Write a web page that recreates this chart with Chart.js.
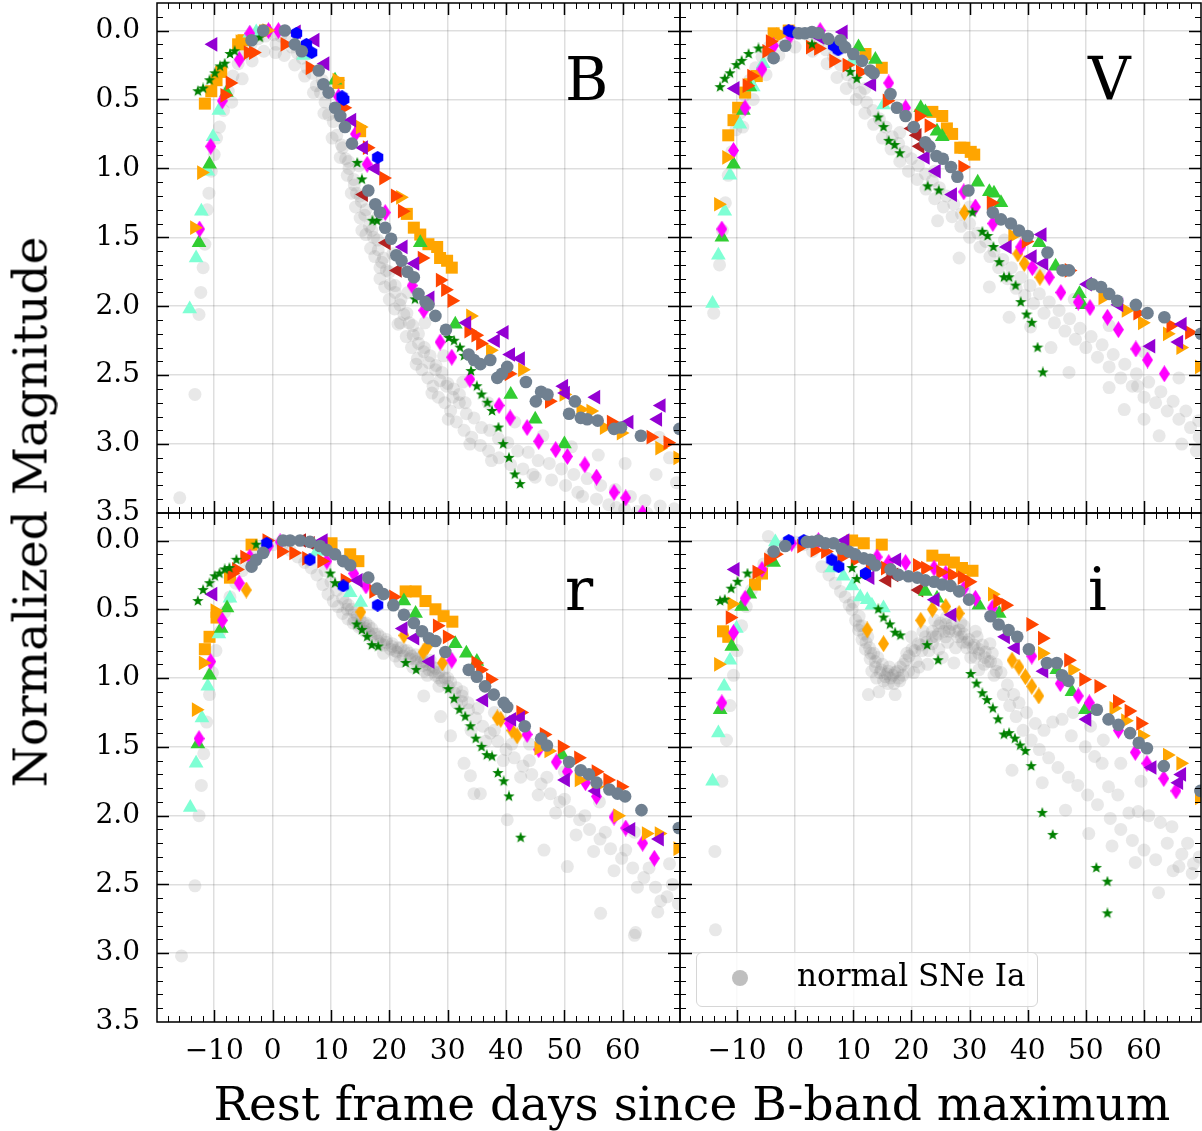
<!DOCTYPE html>
<html>
<head>
<meta charset="utf-8">
<script src="https://cdn.jsdelivr.net/npm/chart.js@4.4.1/dist/chart.umd.min.js"></script>
<style>
  body { margin: 0; background: #fff; width: 1202px; height: 1131px; position: relative; overflow: hidden; font-family: "DejaVu Serif", serif; }
  canvas { position: absolute; }
  .lab { position: absolute; white-space: nowrap; color: #000; }
  #ylab { left: 30px; top: 512px; font-size: 47px; transform: translate(-50%, -50%) rotate(-90deg); }
  #xlab { left: 692px; top: 1103px; font-size: 47px; transform: translate(-50%, -50%); }
  #legend { position: absolute; left: 696px; top: 952px; width: 340px; height: 53px; border: 1.5px solid #d6d6d6; border-radius: 6px; background: rgba(255,255,255,0.8); }
  #legend .dot { position: absolute; left: 35px; top: 17px; width: 16px; height: 16px; border-radius: 50%; background: #bfbfbf; }
  #legend .txt { position: absolute; left: 100px; top: 4px; font-size: 31px; }
</style>
</head>
<body>
<canvas id="cB" width="690" height="545" style="left:0;top:0"></canvas>
<canvas id="cV" width="532" height="545" style="left:670px;top:0"></canvas>
<canvas id="cR" width="690" height="648" style="left:0;top:483px"></canvas>
<canvas id="cI" width="532" height="648" style="left:670px;top:483px"></canvas>
<div class="lab" id="ylab">Normalized Magnitude</div>
<div class="lab" id="xlab">Rest frame days since B-band maximum</div>
<div id="legend"><span class="dot"></span><span class="txt">normal SNe Ia</span></div>
<script>
// axes
const xRange = [-19.8, 69.8];
const yRange = [-0.2, 3.5];
const xTicks = [-10, 0, 10, 20, 30, 40, 50, 60];
const yTicks = [0, 0.5, 1.0, 1.5, 2.0, 2.5, 3.0, 3.5];

// ---- B band ----
const B_slate = [[-3.6,0.07],[-1.6,0.0],[2.1,0.0],[3.8,0.10],[5.0,0.15],[7.9,0.29],[8.7,0.39],[9.6,0.45],[10.7,0.56],[11.6,0.62],[12.4,0.70],[13.6,0.82],[16.4,1.16],[17.6,1.26],[18.4,1.32],[19.3,1.43],[20.3,1.51],[21.2,1.63],[22.1,1.67],[23.1,1.75],[24.2,1.79],[25.0,1.91],[26.2,1.97],[26.7,1.99],[27.9,2.07],[29.7,2.17],[33.6,2.35],[34.5,2.39],[35.6,2.42],[37.3,2.39],[38.5,2.52],[39.3,2.49],[40.2,2.44],[43.4,2.55],[45.1,2.69],[46.0,2.62],[47.1,2.64],[50.8,2.78],[51.8,2.69],[52.8,2.81],[53.9,2.82],[55.7,2.83],[58.5,2.89],[59.7,2.88],[63.1,2.94],[69.7,2.89]];
const B_sq = [[-11.6,0.53],[-10.5,0.44],[-9.6,0.36],[-8.8,0.30],[-5.9,0.10],[-5.0,0.07],[-1.3,0.0],[11.3,0.38],[15.0,0.73],[23.0,1.33],[24.2,1.43],[25.3,1.48],[26.7,1.55],[28.2,1.57],[28.7,1.65],[29.9,1.67],[30.7,1.72]];
const B_oTri = [[-13.4,1.43],[-12.2,1.03],[-5.6,0.08],[-1.0,0.0],[11.0,0.36],[15.0,0.70],[21.9,1.21],[33.9,2.07],[37.3,2.32],[42.8,2.46],[49.9,2.64],[52.8,2.75],[54.5,2.76],[56.8,2.88],[59.7,2.92],[66.3,3.03],[69.4,3.10]];
const B_oDia = [];
const B_orTri = [[-8.2,0.47],[-7.3,0.38],[-4.2,0.16],[-3.3,0.16],[2.1,0.10],[6.4,0.27],[12.2,0.56],[16.2,0.85],[19.0,1.07],[21.0,1.20],[22.2,1.31],[25.6,1.65],[28.7,1.81],[29.6,1.88],[30.7,1.96],[33.6,2.18],[34.8,2.21],[35.6,2.27],[40.5,2.49],[47.4,2.69],[58.0,2.84],[64.8,2.95],[67.7,2.99]];
const B_vio = [[-10.2,0.10],[4.1,0.01],[7.3,0.07],[9.0,0.24],[13.6,0.65],[15.6,0.85],[17.6,1.0],[22.4,1.57],[24.4,1.69],[27.0,1.94],[33.3,2.12],[38.2,2.25],[39.7,2.19],[40.8,2.35],[42.5,2.38],[49.9,2.58],[50.2,2.63],[55.4,2.66],[61.1,2.84],[66.0,2.82],[66.6,2.72]];
const B_mag = [[-12.5,1.44],[-10.6,0.84],[-8.6,0.51],[-5.7,0.21],[-3.9,0.02],[-0.7,0.0],[1.0,0.0],[11.3,0.48],[14.2,0.75],[16.2,0.97],[19.3,1.32],[23.9,1.85],[25.9,2.03],[28.7,2.26],[30.7,2.37],[33.8,2.53],[38.8,2.72],[40.7,2.81],[43.6,2.88],[45.6,2.98],[48.5,3.04],[50.5,3.09],[53.5,3.15],[55.5,3.24],[58.5,3.35],[60.5,3.39],[63.4,3.50]];
const B_lime = [[-12.6,1.54],[-10.8,0.97],[-7.9,0.45],[10.7,0.36],[25.3,1.54],[31.3,2.13],[40.8,2.64],[45.0,2.82],[50.0,3.0]];
const B_aqua = [[-14.2,2.02],[-13.1,1.65],[-12.2,1.31],[-11.1,1.02],[-10.2,0.77],[-9.2,0.58],[-3.9,0.02],[-2.8,0.01],[5.3,0.18]];
const B_star = [[-12.8,0.44],[-11.9,0.42],[-10.8,0.36],[-9.9,0.31],[-9.0,0.26],[-8.2,0.24],[-7.3,0.17],[-6.5,0.15],[-2.2,0.05],[14.5,0.96],[15.3,1.08],[17.1,1.38],[17.9,1.38],[24.4,1.95],[30.2,2.23],[31.1,2.25],[32.1,2.30],[32.8,2.36],[34.0,2.47],[35.0,2.58],[35.8,2.64],[36.8,2.70],[37.6,2.76],[38.7,2.88],[39.5,3.0],[40.5,3.1],[41.5,3.22],[42.4,3.29]];
const B_hex = [[4.1,0.02],[5.8,0.10],[6.7,0.16],[11.9,0.48],[12.2,0.50],[18.0,0.92]];
const B_brown = [[15.6,1.19],[19.5,1.54],[21.4,1.74]];
const B_grey = [[-15.9,3.39],[-13.3,2.64],[-12.6,2.06],[-12.3,1.90],[-11.9,1.72],[-11.6,1.55],[-11.2,1.30],[-10.9,1.18],[-10.5,1.02],[-10.0,0.90],[-9.6,0.78],[-9.1,0.70],[-8.4,0.58],[-7.6,0.44],[-6.8,0.33],[-5.9,0.24],[-4.8,0.17],[-3.7,0.10],[-2.5,0.06],[-1.2,0.04],[0.2,0.03],[0.6,0.10],[1.4,0.04],[2.4,0.08],[3.3,0.12],[4.2,0.16],[5.1,0.20],[5.9,0.27],[6.8,0.31],[7.5,0.40],[8.2,0.45],[9.0,0.52],[9.6,0.61],[10.4,0.66],[11.0,0.76],[11.8,0.83],[12.5,0.93],[13.1,1.00],[13.9,1.08],[14.4,1.18],[15.2,1.24],[15.8,1.34],[16.6,1.42],[17.3,1.50],[18.1,1.59],[18.7,1.68],[19.5,1.74],[20.2,1.84],[21.0,1.90],[21.8,1.99],[22.5,2.06],[23.4,2.12],[24.1,2.21],[25.0,2.27],[25.9,2.33],[26.8,2.41],[27.9,2.46],[28.7,2.54],[29.8,2.58],[30.9,2.66],[32.0,2.70],[33.2,2.78],[34.5,2.81],[35.8,2.88],[37.2,2.90],[38.7,2.96],[40.3,2.99],[42.0,3.05],[43.8,3.06],[45.5,3.12],[47.4,3.14],[49.5,3.18],[51.6,3.22],[53.9,3.25],[56.2,3.30],[58.7,3.33],[61.3,3.38],[63.8,3.41],[66.4,3.45],[68.8,3.47],[8.5,0.36],[11.4,0.62],[14.8,0.98],[17.9,1.36],[20.6,1.62],[23.2,1.90],[26.1,2.12],[29.3,2.36],[32.6,2.55],[36.9,2.70],[41.5,2.84],[46.3,2.94],[51.2,3.02],[55.8,3.08],[60.4,3.14],[65.7,3.22],[15.3,1.45],[18.4,1.80],[21.5,2.13],[24.6,2.42],[27.3,2.63],[30.1,2.82],[33.8,3.00],[37.5,3.12],[44.6,3.22],[52.3,3.35],[58.9,3.46],[64.1,3.50],[-7.0,0.52],[-5.2,0.35],[-3.5,0.22],[-1.5,0.15],[0.5,0.16],[2.0,0.18],[3.8,0.25],[5.5,0.33],[7.0,0.45],[8.8,0.60],[10.2,0.78],[11.6,0.92],[12.8,1.05],[13.5,1.18],[14.2,1.28],[15.0,1.36],[16.0,1.48],[16.8,1.58],[17.5,1.64],[18.4,1.72],[19.2,1.86],[20.0,1.95],[20.9,2.02],[21.9,2.12],[22.9,2.22],[23.8,2.30],[24.8,2.38],[25.6,2.46],[26.6,2.52],[27.5,2.58],[28.4,2.66],[29.5,2.70],[30.5,2.76],[31.5,2.84],[32.8,2.90],[34.1,2.95],[35.6,3.01],[37.0,3.05],[38.8,3.10],[40.8,3.15],[42.9,3.18],[45.0,3.24],[47.8,3.26],[50.2,3.30],[53.1,3.38],[55.5,3.40],[57.6,3.44],[60.3,3.47],[62.5,3.49],[66.2,2.95],[68.0,3.10],[69.2,3.28],[12.0,0.85],[13.0,0.95],[14.0,1.12],[15.0,1.20],[16.0,1.30],[17.0,1.45],[18.0,1.52],[19.0,1.65],[20.0,1.75],[21.0,1.85],[22.0,1.95],[23.0,2.05],[24.0,2.14],[25.0,2.20],[26.0,2.30],[27.0,2.36],[28.0,2.43],[29.0,2.48],[30.0,2.56],[31.0,2.60],[32.0,2.64],[33.0,2.70]];

// ---- V band ----
const V_slate = [[-3.7,0.20],[-1.7,0.11],[0.6,0.02],[1.7,0.02],[2.9,0.01],[4.0,0.02],[5.7,0.06],[7.8,0.07],[8.6,0.12],[10.0,0.17],[11.5,0.22],[12.9,0.29],[13.5,0.31],[16.4,0.46],[17.5,0.56],[19.0,0.62],[20.4,0.70],[22.4,0.81],[23.1,0.84],[24.3,0.91],[25.4,0.93],[26.8,0.99],[27.9,1.06],[29.8,1.16],[34.0,1.32],[35.4,1.37],[37.1,1.40],[38.5,1.45],[40.0,1.49],[43.4,1.61],[46.0,1.74],[47.1,1.74],[51.1,1.84],[52.6,1.86],[54.0,1.91],[55.4,1.96],[58.6,1.99],[60.6,2.05],[63.5,2.08],[69.8,2.20]];
const V_sq = [[-11.5,0.76],[-10.6,0.65],[-9.8,0.56],[-8.6,0.45],[-7.8,0.39],[-6.6,0.33],[-3.7,0.02],[-1.1,0.0],[12.1,0.17],[14.9,0.27],[23.6,0.59],[25.3,0.62],[26.1,0.71],[27.0,0.75],[28.4,0.85],[29.1,0.85],[30.2,0.88],[30.8,0.90]];
const V_oTri = [[-13.2,1.26],[-11.8,0.92],[-2.5,0.03],[37.4,1.49],[52.9,1.94],[56.9,2.03],[59.7,2.12],[64.0,2.20],[66.3,2.30],[69.5,2.44]];
const V_oDia = [[29.1,1.32],[38.3,1.62],[39.4,1.69],[42.1,1.79]];
const V_orTri = [[-8.3,0.40],[-7.5,0.33],[-4.9,0.15],[-4.3,0.08],[2.6,0.12],[4.0,0.13],[6.6,0.22],[8.9,0.25],[11.2,0.30],[15.8,0.51],[21.3,0.62],[23.0,0.69],[28.8,0.99],[33.7,1.25],[39.7,1.53],[47.1,1.74],[58.9,2.05],[64.6,2.14],[67.8,2.19]];
const V_vio = [[-10.3,0.42],[4.3,0.05],[8.3,0.01],[13.2,0.39],[22.4,0.92],[24.3,1.02],[27.1,1.19],[36.5,1.57],[40.8,1.64],[42.5,1.48],[42.8,1.69],[50.3,1.84],[55.7,1.99],[61.2,2.29],[66.0,2.26],[66.6,2.13]];
const V_mag = [[-12.6,1.44],[-10.6,0.87],[-8.6,0.56],[-5.7,0.28],[-3.7,0.11],[-0.9,0.04],[4.3,0.0],[16.1,0.38],[19.0,0.56],[29.0,1.17],[31.0,1.28],[34.0,1.40],[38.8,1.57],[40.8,1.72],[43.7,1.79],[45.7,1.90],[48.7,1.97],[50.7,2.01],[53.7,2.08],[55.6,2.17],[58.6,2.31],[60.6,2.39],[63.5,2.49]];
const V_lime = [[-12.6,1.50],[-10.6,0.97],[-8.9,0.58],[-7.8,0.41],[10.9,0.12],[13.8,0.21],[21.6,0.56],[22.4,0.59],[24.4,0.73],[25.3,0.77],[31.4,1.10],[33.4,1.17],[34.2,1.18],[35.4,1.25],[42.0,1.54],[44.8,1.71],[48.9,1.91],[49.4,1.99]];
const V_aqua = [[-14.2,1.98],[-13.2,1.63],[-12.1,1.31],[-11.2,1.05],[-9.5,0.68],[-7.2,0.41],[-5.5,0.24],[9.8,0.22],[15.2,0.54]];
const V_star = [[-12.9,0.41],[-12.1,0.35],[-11.2,0.31],[-10.1,0.25],[-9.2,0.22],[-8.0,0.17],[-6.3,0.13],[2.9,0.10],[9.5,0.30],[10.6,0.35],[14.3,0.63],[15.2,0.70],[16.1,0.80],[17.1,0.83],[18.0,0.89],[22.8,1.13],[24.7,1.16],[30.5,1.32],[32.2,1.46],[33.1,1.49],[34.1,1.57],[35.1,1.68],[35.9,1.79],[36.8,1.79],[37.9,1.85],[38.8,1.97],[39.8,2.06],[40.7,2.12],[41.7,2.30],[42.6,2.48]];
const V_hex = [[-1.1,0.0],[-0.5,0.01],[6.6,0.11],[7.4,0.14]];
const V_brown = [[20.1,0.71],[21.0,0.76],[21.5,0.84]];
const V_grey = [[-14.0,2.05],[-13.0,1.70],[-12.5,1.45],[-12.0,1.25],[-11.5,1.05],[-10.9,0.88],[-10.2,0.72],[-9.5,0.60],[-8.7,0.47],[-7.8,0.36],[-6.8,0.27],[-5.7,0.19],[-4.5,0.12],[-3.2,0.07],[-1.8,0.03],[-0.3,0.01],[1.2,0.02],[2.6,0.05],[4.0,0.09],[5.3,0.14],[6.6,0.19],[7.8,0.25],[9.0,0.32],[10.1,0.38],[11.2,0.45],[12.3,0.52],[13.4,0.58],[14.5,0.64],[15.6,0.70],[16.7,0.77],[17.8,0.82],[18.9,0.88],[20.0,0.93],[21.2,0.98],[22.4,1.04],[23.6,1.09],[24.8,1.14],[26.0,1.20],[27.3,1.26],[28.6,1.33],[30.0,1.40],[31.4,1.47],[32.8,1.53],[34.2,1.60],[35.7,1.66],[37.2,1.72],[38.8,1.79],[40.4,1.85],[42.0,1.91],[43.7,1.97],[45.4,2.03],[47.2,2.09],[49.0,2.16],[50.9,2.22],[52.8,2.28],[54.7,2.35],[56.7,2.42],[58.7,2.49],[60.8,2.55],[62.9,2.62],[65.0,2.69],[67.2,2.76],[69.4,2.83],[12.0,0.42],[18.0,0.74],[24.0,1.02],[30.0,1.28],[36.0,1.52],[42.0,1.74],[48.0,1.95],[54.0,2.14],[60.0,2.33],[66.0,2.52],[24.5,1.38],[28.2,1.65],[33.4,1.86],[36.8,2.08],[40.5,2.15],[44.0,2.30],[47.1,2.48],[54.0,2.59],[56.6,2.75],[58.9,2.58],[60.0,2.82],[62.6,2.94],[66.5,3.00],[69.0,3.05],[-9.0,0.70],[-7.2,0.50],[-5.0,0.32],[-2.8,0.18],[0.0,0.12],[3.0,0.15],[5.5,0.24],[7.2,0.34],[8.8,0.42],[10.5,0.50],[12.0,0.60],[13.5,0.68],[15.0,0.78],[16.5,0.86],[18.0,0.95],[19.5,1.02],[21.0,1.08],[22.5,1.15],[24.0,1.22],[25.5,1.28],[27.0,1.35],[28.5,1.42],[30.0,1.50],[31.8,1.57],[33.5,1.64],[35.0,1.72],[36.5,1.80],[38.0,1.87],[39.5,1.92],[41.0,1.98],[42.8,2.05],[44.6,2.12],[46.4,2.18],[48.2,2.24],[50.0,2.30],[52.0,2.37],[54.0,2.44],[56.0,2.52],[58.0,2.58],[60.0,2.66],[62.0,2.70],[64.0,2.76],[66.0,2.82],[68.0,2.88],[69.5,2.95]];

// ---- r band ----
const R_slate = [[-3.6,0.19],[-2.8,0.14],[-1.6,0.09],[1.8,0.0],[3.0,0.0],[4.7,0.0],[6.4,0.01],[8.1,0.04],[9.3,0.07],[10.7,0.10],[12.1,0.15],[13.3,0.18],[16.4,0.27],[17.9,0.35],[19.0,0.39],[20.7,0.47],[22.5,0.54],[24.2,0.60],[25.6,0.66],[26.8,0.71],[27.9,0.73],[29.6,0.81],[33.6,0.94],[35.0,0.99],[36.4,1.06],[37.9,1.12],[39.6,1.18],[40.2,1.21],[43.2,1.35],[46.0,1.44],[47.0,1.49],[50.8,1.61],[52.8,1.67],[54.2,1.70],[55.5,1.76],[57.7,1.81],[59.1,1.84],[60.4,1.86],[63.2,1.96],[69.6,2.09]];
const R_sq = [[-11.6,0.79],[-10.8,0.70],[-9.6,0.56],[-7.3,0.27],[-3.6,0.03],[10.1,0.02],[13.3,0.10],[14.7,0.15],[22.8,0.37],[24.5,0.37],[26.2,0.44],[27.9,0.50],[29.3,0.55],[30.8,0.59]];
const R_oTri = [[-13.1,1.23],[-11.9,0.89],[-9.9,0.51],[45.6,1.51],[47.3,1.53],[52.5,1.74],[55.4,1.79],[59.1,2.0],[64.0,2.13],[66.2,2.13],[69.4,2.24]];
const R_oDia = [[-4.5,0.36],[15.1,0.52],[22.5,0.69],[25.8,0.81],[26.5,0.77],[29.1,0.89],[38.5,1.29],[39.1,1.30],[41.0,1.38],[41.9,1.42]];
const R_orTri = [[-7.0,0.24],[-6.2,0.21],[-4.8,0.12],[-1.0,0.0],[1.5,0.08],[3.6,0.09],[5.8,0.13],[8.4,0.15],[12.4,0.29],[17.3,0.37],[20.7,0.41],[28.2,0.62],[29.9,0.70],[34.8,0.89],[35.6,0.94],[37.3,1.01],[42.5,1.25],[46.5,1.41],[49.6,1.50],[52.4,1.58],[55.4,1.68],[57.4,1.74],[59.7,1.79]];
const R_vio = [[-10.2,0.39],[8.7,0.0],[14.7,0.29],[22.4,0.64],[24.4,0.71],[27.0,0.88],[36.2,1.16],[41.0,1.30],[42.5,1.29],[50.2,1.74],[55.4,1.82],[61.4,2.10],[66.3,2.17]];
const R_mag = [[-12.6,1.44],[-10.6,0.88],[-8.6,0.58],[-5.7,0.31],[-3.9,0.12],[-0.7,0.04],[1.3,0.01],[9.3,0.15],[13.9,0.24],[16.0,0.33],[30.7,0.87],[40.6,1.33],[43.6,1.41],[45.6,1.52],[48.6,1.61],[50.5,1.68],[53.6,1.76],[55.5,1.86],[58.5,2.01],[60.5,2.09],[63.4,2.20],[65.4,2.31]];
const R_lime = [[-12.8,1.48],[-10.8,0.98],[-8.8,0.64],[-7.8,0.49],[22.5,0.44],[24.5,0.53],[31.3,0.75],[33.2,0.82],[35.0,0.88],[49.6,1.56]];
const R_aqua = [[-14.1,1.94],[-13.1,1.62],[-12.1,1.29],[-11.1,1.06],[-9.2,0.68],[-7.3,0.42],[7.6,0.08],[13.3,0.38],[15.1,0.45]];
const R_star = [[-12.8,0.44],[-11.9,0.36],[-10.8,0.31],[-9.9,0.26],[-9.1,0.24],[-8.2,0.21],[-7.4,0.20],[-6.2,0.14],[-2.8,0.03],[9.9,0.24],[10.7,0.31],[14.4,0.61],[15.3,0.65],[16.2,0.70],[17.0,0.76],[18.1,0.77],[22.8,0.89],[24.6,0.94],[30.1,1.08],[31.1,1.15],[32.0,1.23],[33.0,1.28],[33.9,1.35],[34.8,1.44],[35.8,1.50],[36.7,1.56],[37.6,1.57],[38.6,1.69],[39.6,1.75],[40.5,1.86],[42.5,2.16]];
const R_hex = [[-1.0,0.02],[6.4,0.14],[12.1,0.33],[18.0,0.47]];
const R_brown = [[5.0,0.0],[6.5,0.02]];
const R_grey = [[-15.6,3.02],[-13.3,2.51],[-12.6,2.0],[-12.2,1.78],[-11.8,1.55],[-11.3,1.32],[-10.8,1.12],[-10.3,0.96],[-9.7,0.80],[-9.0,0.66],[-8.2,0.52],[-7.3,0.41],[-6.3,0.31],[-5.2,0.22],[-4.0,0.15],[-2.7,0.09],[-1.3,0.05],[0.1,0.03],[1.6,0.04],[3.0,0.07],[4.3,0.12],[5.5,0.16],[6.6,0.20],[7.6,0.25],[8.6,0.32],[9.5,0.39],[10.4,0.44],[11.2,0.48],[12.0,0.53],[12.9,0.57],[13.8,0.60],[14.8,0.63],[15.8,0.66],[16.9,0.70],[18.0,0.73],[19.1,0.76],[20.2,0.79],[21.3,0.81],[22.4,0.84],[23.5,0.86],[24.6,0.88],[25.7,0.91],[26.8,0.94],[27.9,0.98],[29.0,1.02],[30.1,1.06],[31.2,1.11],[32.4,1.17],[33.6,1.23],[34.8,1.29],[36.0,1.35],[37.3,1.40],[38.6,1.46],[40.0,1.52],[41.4,1.58],[42.9,1.64],[44.4,1.70],[46.0,1.77],[47.6,1.84],[49.2,1.90],[50.9,1.97],[52.6,2.03],[54.3,2.10],[56.1,2.17],[57.9,2.24],[59.8,2.31],[61.7,2.38],[63.6,2.45],[65.6,2.52],[67.6,2.59],[69.5,2.64],[13.5,0.50],[15.0,0.57],[17.0,0.64],[19.5,0.72],[22.0,0.78],[24.5,0.83],[27.0,0.87],[29.5,0.93],[12.5,0.45],[16.0,0.60],[21.0,0.84],[26.0,0.95],[28.5,1.00],[25.9,1.13],[28.8,1.28],[30.5,1.42],[32.8,1.62],[34.5,1.84],[33.9,1.71],[35.6,1.84],[40.2,2.03],[46.5,2.25],[50.5,2.37],[56.2,2.71],[62.2,2.85],[62.0,2.87],[66.0,2.70],[38.0,1.25],[44.0,1.48],[50.0,1.68],[56.0,1.90],[62.0,2.12],[68.0,2.35],[9.0,0.22],[10.0,0.30],[11.0,0.36],[12.0,0.42],[13.0,0.47],[14.0,0.52],[15.0,0.62],[16.5,0.67],[18.0,0.68],[19.0,0.82],[20.5,0.75],[21.8,0.88],[23.0,0.80],[24.0,0.92],[25.5,0.85],[26.5,0.98],[27.5,0.92],[28.5,1.06],[30.0,1.00],[31.5,1.18],[32.5,1.10],[34.0,1.38],[35.2,1.22],[36.5,1.46],[38.0,1.38],[39.5,1.60],[41.0,1.48],[42.5,1.72],[44.0,1.60],[45.5,1.85],[47.0,1.72],[48.5,1.98],[50.0,1.88],[52.0,2.14],[53.5,2.00],[55.0,2.26],[57.0,2.12],[58.5,2.40],[60.5,2.25],[62.5,2.52],[64.5,2.38],[66.5,2.62],[68.5,2.50],[14.5,0.55],[15.5,0.60],[16.5,0.62],[17.5,0.68],[18.5,0.70],[19.5,0.74],[20.5,0.77],[21.5,0.78],[22.5,0.80],[23.5,0.82],[24.5,0.86],[25.5,0.88],[26.5,0.90],[27.5,0.95],[28.5,0.96],[29.5,1.00],[30.5,1.03],[31.5,1.07],[32.5,1.13],[33.5,1.18],[12.8,0.50],[14.0,0.58],[16.0,0.64],[18.5,0.75],[21.0,0.80],[23.8,0.84],[26.0,0.88],[28.0,0.93]];

// ---- i band ----
const I_slate = [[-3.7,0.08],[-1.7,0.04],[2.0,0.01],[2.9,0.01],[4.0,0.0],[5.2,0.02],[6.6,0.02],[8.0,0.06],[9.2,0.08],[10.3,0.10],[11.8,0.13],[12.9,0.14],[13.8,0.18],[16.4,0.21],[17.8,0.25],[19.5,0.26],[21.0,0.27],[22.4,0.29],[23.9,0.30],[25.3,0.32],[26.7,0.33],[28.2,0.37],[29.9,0.43],[33.6,0.55],[35.0,0.61],[36.7,0.65],[38.2,0.70],[40.2,0.79],[43.3,0.89],[45.0,0.89],[45.9,0.98],[47.0,1.02],[51.9,1.23],[53.9,1.30],[55.6,1.34],[57.6,1.40],[59.1,1.47],[60.5,1.51],[63.4,1.64],[69.7,1.82]];
const I_sq = [[-12.4,0.66],[-11.5,0.70],[-6.9,0.32],[-5.7,0.24],[9.8,0.0],[11.8,0.02],[14.9,0.03],[23.6,0.11],[25.6,0.14],[27.3,0.16],[28.7,0.20],[30.5,0.22]];
const I_oTri = [[-13.2,0.90],[-10.9,0.46],[33.9,0.39],[42.5,0.82],[47.7,0.94],[54.8,1.22],[56.8,1.31],[59.7,1.42],[64.0,1.56],[66.3,1.62],[69.5,1.87]];
const I_oDia = [[12.4,0.65],[15.2,0.75],[21.6,0.58],[23.6,0.50],[25.9,0.48],[28.2,0.53],[37.3,0.87],[38.5,0.92],[39.6,0.99],[40.7,1.06],[41.9,1.13]];
const I_orTri = [[-11.2,0.56],[-6.6,0.23],[-4.6,0.14],[-3.4,0.10],[1.1,0.04],[3.4,0.07],[5.2,0.08],[8.0,0.12],[10.3,0.14],[12.9,0.18],[15.5,0.20],[21.0,0.18],[22.4,0.20],[25.0,0.23],[27.0,0.25],[28.7,0.27],[29.9,0.30],[34.8,0.44],[36.2,0.47],[40.5,0.61],[42.5,0.71],[47.0,0.87],[49.6,1.01],[52.2,1.06],[55.4,1.17],[57.4,1.24],[59.4,1.33]];
const I_vio = [[-10.3,0.21],[8.6,0.0],[12.9,0.27],[17.5,0.14],[24.1,0.43],[27.0,0.54],[36.2,0.70],[37.9,0.78],[42.8,0.95],[50.2,1.30],[61.4,1.65],[66.0,1.76],[66.5,1.70]];
const I_mag = [[-12.6,1.18],[-10.6,0.67],[-8.6,0.42],[-5.7,0.21],[-0.6,0.02],[4.0,0.0],[14.1,0.12],[16.1,0.16],[19.0,0.16],[23.9,0.20],[25.9,0.24],[29.0,0.35],[31.0,0.42],[33.9,0.49],[40.7,0.84],[45.6,1.04],[48.7,1.13],[50.6,1.18],[55.6,1.38],[58.5,1.54],[60.5,1.62],[63.4,1.73],[65.5,1.82]];
const I_lime = [[-12.9,1.23],[-10.9,0.77],[-9.2,0.48],[-7.8,0.39],[-3.7,0.16],[22.4,0.37],[24.4,0.42],[31.6,0.47],[35.1,0.53],[45.0,0.94],[47.6,1.10],[49.9,1.23]];
const I_aqua = [[-14.2,1.75],[-13.2,1.40],[-12.2,1.06],[-11.2,0.87],[-10.1,0.64],[-3.4,0.01],[6.3,0.20],[8.3,0.26],[9.8,0.33],[11.2,0.41],[12.4,0.43],[13.2,0.47],[15.2,0.49]];
const I_star = [[-12.9,0.44],[-12.1,0.43],[-11.0,0.35],[-9.9,0.30],[-8.2,0.24],[9.8,0.20],[10.6,0.28],[14.3,0.50],[15.2,0.56],[16.3,0.61],[17.2,0.67],[18.1,0.69],[22.7,0.76],[24.6,0.87],[30.2,0.97],[31.2,1.04],[32.2,1.11],[33.0,1.16],[34.0,1.22],[34.9,1.30],[35.9,1.41],[36.8,1.40],[37.8,1.44],[38.7,1.49],[39.6,1.53],[40.6,1.64],[42.5,1.98],[44.3,2.14],[51.8,2.38],[53.7,2.48],[53.7,2.71]];
const I_hex = [[-1.1,0.0],[1.5,0.0],[6.3,0.14],[7.5,0.19],[12.1,0.24]];
const I_brown = [[15.8,0.29],[17.0,0.25],[21.3,0.36]];
const I_grey = [[-13.7,2.83],[-13.8,2.26],[-12.6,1.75],[-11.8,1.45],[-11.2,1.20],[-10.6,0.98],[-10.0,0.80],[-9.2,0.62],[-8.4,0.48],[-7.5,0.36],[-6.5,0.26],[-5.4,0.17],[-4.6,-0.03],[-4.2,0.10],[-3.0,0.05],[-1.6,0.02],[0.0,0.01],[1.5,0.03],[3.0,0.08],[4.6,0.19],[5.8,0.25],[6.9,0.31],[7.8,0.37],[8.6,0.41],[9.3,0.47],[9.8,0.50],[10.4,0.58],[10.9,0.65],[11.5,0.72],[12.1,0.79],[12.9,0.86],[13.8,0.92],[14.6,0.96],[15.5,0.99],[16.4,1.00],[17.2,0.96],[18.1,0.92],[19.0,0.87],[20.1,0.79],[21.2,0.75],[22.4,0.70],[23.6,0.66],[24.7,0.62],[25.9,0.61],[27.0,0.61],[28.2,0.65],[29.0,0.68],[29.9,0.72],[30.8,0.76],[31.6,0.79],[32.7,0.81],[33.9,0.82],[34.6,0.90],[35.4,0.96],[36.5,1.05],[37.6,1.12],[38.5,1.18],[39.8,1.25],[41.3,1.33],[42.8,1.38],[44.3,1.32],[45.9,1.30],[47.5,1.42],[49.9,1.50],[51.5,1.57],[52.8,1.62],[53.9,1.79],[55.5,1.85],[57.4,1.98],[59.0,1.97],[60.8,2.00],[62.8,2.05],[64.8,2.08],[66.0,2.37],[67.5,2.20],[68.3,2.42],[69.5,2.30],[11.0,0.55],[12.5,0.70],[13.5,0.82],[15.0,0.90],[16.0,0.95],[17.8,1.00],[19.5,0.95],[20.8,0.88],[21.3,0.92],[23.0,0.80],[23.6,0.75],[24.7,0.79],[25.9,0.70],[26.5,0.66],[28.0,0.70],[29.5,0.78],[31.0,0.85],[32.5,0.90],[20.0,0.70],[22.0,0.66],[25.0,0.60],[28.5,0.60],[31.0,0.66],[33.5,0.75],[12.6,1.12],[14.4,1.10],[17.2,1.12],[27.3,0.89],[31.6,0.94],[37.3,1.67],[42.5,1.76],[46.5,1.96],[50.5,2.13],[54.5,2.22],[58.5,2.34],[62.5,2.56],[65.0,2.40],[10.0,0.45],[11.0,0.62],[11.8,0.68],[12.8,0.78],[13.2,0.95],[14.2,0.85],[15.2,1.02],[16.2,0.92],[17.0,1.04],[18.5,0.98],[19.2,0.82],[20.4,0.96],[21.8,0.80],[22.8,0.90],[24.2,0.70],[25.3,0.85],[26.2,0.74],[27.6,0.78],[28.8,0.74],[30.2,0.85],[31.3,0.70],[32.2,0.76],[33.2,0.88],[34.2,0.98],[35.8,1.12],[36.9,1.20],[38.0,1.28],[39.2,1.38],[40.6,1.45],[42.0,1.52],[43.6,1.58],[45.2,1.65],[47.0,1.72],[48.6,1.78],[50.3,1.85],[52.0,1.92],[54.2,2.02],[56.0,2.10],[58.0,2.18],[60.0,2.25],[62.0,2.32],[64.0,2.20],[66.5,2.28],[68.5,2.35],[47.8,1.25],[50.8,1.35],[53.0,1.45],[56.0,1.62],[59.5,1.75],[11.5,0.62],[12.2,0.74],[13.0,0.82],[13.8,0.88],[14.8,0.94],[15.8,0.97],[16.8,0.98],[17.6,0.95],[18.6,0.90],[19.6,0.84],[20.6,0.80],[21.6,0.76],[22.6,0.74],[23.6,0.70],[24.6,0.68],[25.6,0.66],[26.6,0.64],[27.6,0.66],[28.6,0.70],[29.6,0.74],[30.6,0.78],[31.6,0.82],[32.6,0.85],[33.6,0.88],[34.6,0.95],[14.0,1.00],[16.0,1.04],[18.0,1.02],[26.0,0.56],[24.0,0.58],[29.0,0.62]];

// marker images for the shapes Chart.js lacks
function markerCanvas(shape, color, w, h) {
  const c = document.createElement('canvas');
  c.width = w; c.height = h;
  const g = c.getContext('2d');
  const cx = w / 2, cy = h / 2;
  g.fillStyle = color;
  g.beginPath();
  if (shape === 'star') {
    for (let k = 0; k < 10; k++) {
      const r = k % 2 ? w * 0.2 : w / 2;
      const a = -Math.PI / 2 + k * Math.PI / 5;
      g.lineTo(cx + r * Math.cos(a), cy + r * Math.sin(a));
    }
  } else if (shape === 'hex') {
    for (let k = 0; k < 6; k++) {
      const a = -Math.PI / 2 + k * Math.PI / 3;
      g.lineTo(cx + w / 2 * Math.cos(a), cy + h / 2 * Math.sin(a));
    }
  } else {
    g.moveTo(cx, 0); g.lineTo(w, cy); g.lineTo(cx, h); g.lineTo(0, cy);
  }
  g.closePath();
  g.fill();
  return c;
}

const starImg = markerCanvas('star', '#008000', 12, 12);
const hexImg = markerCanvas('hex', '#0000ff', 13, 13);
const magDia = markerCanvas('dia', '#ff00ff', 11, 17);
const orgDia = markerCanvas('dia', '#ffa500', 11, 17);

// drawn top first, grey cloud last (at the back)
const styles = [
  { key: 'slate', pointStyle: 'circle', radius: 6.3, color: '#708090' },
  { key: 'star', pointStyle: starImg, radius: 6, color: '#008000' },
  { key: 'hex', pointStyle: hexImg, radius: 6, color: '#0000ff' },
  { key: 'vio', pointStyle: 'triangle', rotation: -90, radius: 8.5, color: '#9400d3' },
  { key: 'orTri', pointStyle: 'triangle', rotation: 90, radius: 8.5, color: '#ff4500' },
  { key: 'oTri', pointStyle: 'triangle', rotation: 90, radius: 8.5, color: '#ffa500' },
  { key: 'mag', pointStyle: magDia, radius: 8, color: '#ff00ff' },
  { key: 'lime', pointStyle: 'triangle', rotation: 0, radius: 8.5, color: '#32cd32' },
  { key: 'aqua', pointStyle: 'triangle', rotation: 0, radius: 8.5, color: '#7fffd4' },
  { key: 'oDia', pointStyle: orgDia, radius: 8, color: '#ffa500' },
  { key: 'brown', pointStyle: 'triangle', rotation: -90, radius: 8.5, color: '#b22222' },
  { key: 'sq', pointStyle: 'rect', radius: 8.5, color: '#ffa500' },
  { key: 'grey', pointStyle: 'circle', radius: 6.5, color: 'rgba(128,128,128,0.18)' }
];

const bands = {
  B: { slate: B_slate, star: B_star, hex: B_hex, vio: B_vio, orTri: B_orTri, oTri: B_oTri, mag: B_mag, lime: B_lime, aqua: B_aqua, oDia: B_oDia, brown: B_brown, sq: B_sq, grey: B_grey },
  V: { slate: V_slate, star: V_star, hex: V_hex, vio: V_vio, orTri: V_orTri, oTri: V_oTri, mag: V_mag, lime: V_lime, aqua: V_aqua, oDia: V_oDia, brown: V_brown, sq: V_sq, grey: V_grey },
  r: { slate: R_slate, star: R_star, hex: R_hex, vio: R_vio, orTri: R_orTri, oTri: R_oTri, mag: R_mag, lime: R_lime, aqua: R_aqua, oDia: R_oDia, brown: R_brown, sq: R_sq, grey: R_grey },
  i: { slate: I_slate, star: I_star, hex: I_hex, vio: I_vio, orTri: I_orTri, oTri: I_oTri, mag: I_mag, lime: I_lime, aqua: I_aqua, oDia: I_oDia, brown: I_brown, sq: I_sq, grey: I_grey }
};

// inward ticks on all four sides + frame + band letter
const frameTicks = {
  id: 'frameTicks',
  afterDraw(chart) {
    const { ctx, chartArea: a, scales: { x, y } } = chart;
    const drawSet = (vals, len, lw) => {
      ctx.lineWidth = lw;
      ctx.beginPath();
      vals.x.forEach(v => {
        const px = Math.round(x.getPixelForValue(v)) + 0.5;
        ctx.moveTo(px, a.bottom); ctx.lineTo(px, a.bottom - len);
        ctx.moveTo(px, a.top); ctx.lineTo(px, a.top + len);
      });
      vals.y.forEach(v => {
        const py = Math.round(y.getPixelForValue(v)) + 0.5;
        ctx.moveTo(a.left, py); ctx.lineTo(a.left + len, py);
        ctx.moveTo(a.right, py); ctx.lineTo(a.right - len, py);
      });
      ctx.stroke();
    };
    const xMinor = [], yMinor = [];
    for (let v = -18; v <= 68; v += 2) if (v % 10 !== 0) xMinor.push(v);
    for (let k = -1; k <= 34; k++) if (k % 5 !== 0) yMinor.push(k / 10);
    ctx.save();
    ctx.strokeStyle = '#000';
    drawSet({ x: xMinor, y: yMinor }, 6, 1);
    drawSet({ x: xTicks, y: yTicks.filter(v => v < 3.5) }, 12, 1.5);
    ctx.lineWidth = 1.5;
    ctx.strokeRect(a.left, a.top, a.right - a.left, a.bottom - a.top);
    const letter = chart.options.plugins.frameTicks.letter;
    ctx.fillStyle = '#000';
    ctx.font = '59px "DejaVu Serif"';
    ctx.textAlign = 'left';
    ctx.textBaseline = 'alphabetic';
    ctx.fillText(letter, a.left + 408, a.top + 97);
    ctx.restore();
  }
};

function makePanel(id, band, showY, showX, padding) {
  const datasets = styles.map(s => ({
    label: s.key,
    data: bands[band][s.key].map(([d, m]) => ({ x: d, y: m })),
    pointStyle: s.pointStyle,
    pointRadius: s.radius,
    pointRotation: s.rotation || 0,
    pointBackgroundColor: s.color,
    pointBorderWidth: 0,
    showLine: false,
    clip: 0
  }));
  const font = { family: 'DejaVu Serif', size: 28 };
  new Chart(document.getElementById(id), {
    type: 'scatter',
    data: { datasets },
    options: {
      responsive: false,
      animation: false,
      events: [],
      layout: { padding, autoPadding: false },
      plugins: { legend: { display: false }, tooltip: { enabled: false }, frameTicks: { letter: band } },
      scales: {
        x: {
          type: 'linear', min: xRange[0], max: xRange[1],
          afterBuildTicks: s => { s.ticks = xTicks.map(v => ({ value: v })); },
          afterFit: s => { s.height = showX ? 60 : 0; s.paddingLeft = 0; s.paddingRight = 0; },
          ticks: { display: showX, padding: 13, color: '#000', font, maxRotation: 0, autoSkip: false,
            callback: v => (v < 0 ? '\u2212' + Math.abs(v) : String(v)) },
          grid: { color: 'rgba(0,0,0,0.13)', lineWidth: 1.5, drawTicks: false },
          border: { display: false }
        },
        y: {
          type: 'linear', reverse: true, min: yRange[0], max: yRange[1],
          afterBuildTicks: s => { s.ticks = yTicks.map(v => ({ value: v })); },
          afterFit: s => { s.width = showY ? 157 : 0; s.paddingTop = 0; s.paddingBottom = 0; },
          ticks: { display: showY, padding: 17, color: '#000', font, autoSkip: false,
            callback: v => v.toFixed(1) },
          grid: { color: 'rgba(0,0,0,0.13)', lineWidth: 1.5, drawTicks: false },
          border: { display: false }
        }
      }
    },
    plugins: [frameTicks]
  });
}

makePanel('cB', 'B', true, false, { left: 0, top: 3, right: 10, bottom: 32 });
makePanel('cV', 'V', false, false, { left: 10, top: 3, right: 1, bottom: 32 });
makePanel('cR', 'r', true, true, { left: 0, top: 30, right: 10, bottom: 49 });
makePanel('cI', 'i', false, true, { left: 10, top: 30, right: 1, bottom: 49 });
</script>
</body>
</html>
